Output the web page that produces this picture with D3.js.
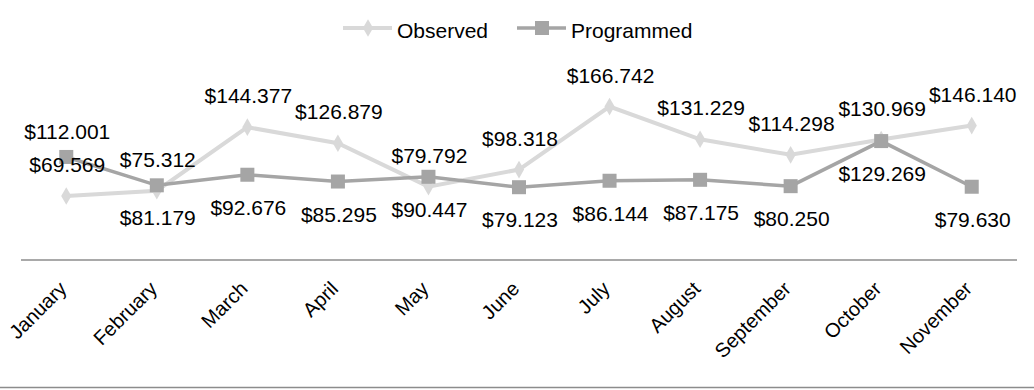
<!DOCTYPE html>
<html>
<head>
<meta charset="utf-8">
<script src="https://cdn.jsdelivr.net/npm/d3@7"></script>
<style>
  body { margin: 0; background: #fff; }
  text { font-family: "Liberation Sans", Arial, sans-serif; fill: #000; }
</style>
</head>
<body>
<svg id="chart"></svg>
<script>
let months = ['January', 'February', 'March', 'April', 'May', 'June', 'July', 'August', 'September', 'October', 'November']
let observed = [69.569, 75.312, 144.377, 126.879, 79.792, 98.318, 166.742, 131.229, 114.298, 130.969, 146.140]
let programmed = [112.001, 81.179, 92.676, 85.295, 90.447, 79.123, 86.144, 87.175, 80.250, 129.269, 79.630]
let seriesNames = ['Observed', 'Programmed']
// months whose Programmed label sits above the point instead of below
let programmedAbove = ['January']

function drawChart () {
  let svgWidth = 1034
  let svgHeight = 390
  let axisY = 260

  let svg = d3.select('#chart')
    .attr('width', svgWidth)
    .attr('height', svgHeight)

  let x = d3.scalePoint()
    .domain(months)
    .range([21, 1017])
    .padding(0.5)

  let y = d3.scaleLinear()
    .domain([0, 200])
    .range([axisY, 76])

  let fmt = (v) => '$' + v.toFixed(3)

  // category axis
  let xAxis = svg.append('g')
    .attr('transform', `translate(0, ${axisY})`)
    .call(d3.axisBottom(x).tickSize(0).tickPadding(0))
  xAxis.select('.domain')
    .attr('d', `M21,0H1017`)
    .attr('stroke', '#8c8c8c')
    .attr('stroke-width', 1.5)
  xAxis.selectAll('text')
    .attr('font-size', 20)
    .attr('font-family', '"Liberation Sans", Arial, sans-serif')
    .attr('fill', '#000')
    .attr('text-anchor', 'end')
    .attr('dy', 0)
    .attr('transform', 'translate(1, 30) rotate(-45)')

  // bottom border
  svg.append('line')
    .attr('x1', 0).attr('x2', svgWidth)
    .attr('y1', 387.5).attr('y2', 387.5)
    .attr('stroke', '#8c8c8c')
    .attr('stroke-width', 1.5)

  let line = d3.line()
    .x((d, i) => x(months[i]))
    .y((d) => y(d))

  let diamond = d3.symbol().type(d3.symbolDiamond).size(90)

  // Observed
  svg.append('path')
    .datum(observed)
    .attr('d', line)
    .attr('fill', 'none')
    .attr('stroke', '#d9d9d9')
    .attr('stroke-width', 4)
  svg.selectAll('.obs')
    .data(observed)
    .enter().append('path')
    .attr('class', 'obs')
    .attr('d', diamond)
    .attr('transform', (d, i) => `translate(${x(months[i])}, ${y(d)})`)
    .attr('fill', '#d9d9d9')

  // Programmed
  svg.append('path')
    .datum(programmed)
    .attr('d', line)
    .attr('fill', 'none')
    .attr('stroke', '#a5a5a5')
    .attr('stroke-width', 3.5)
  svg.selectAll('.prog')
    .data(programmed)
    .enter().append('rect')
    .attr('class', 'prog')
    .attr('x', (d, i) => x(months[i]) - 7)
    .attr('y', (d) => y(d) - 7)
    .attr('width', 14)
    .attr('height', 14)
    .attr('fill', '#a5a5a5')

  // data labels
  svg.selectAll('.obsLabel')
    .data(observed)
    .enter().append('text')
    .attr('class', 'obsLabel')
    .attr('x', (d, i) => x(months[i]) + 1)
    .attr('y', (d) => y(d) - 24)
    .attr('text-anchor', 'middle')
    .attr('font-size', 21)
    .text(fmt)

  svg.selectAll('.progLabel')
    .data(programmed)
    .enter().append('text')
    .attr('class', 'progLabel')
    .attr('x', (d, i) => x(months[i]) + 1)
    .attr('y', (d, i) => programmedAbove.includes(months[i]) ? y(d) - 18 : y(d) + 40)
    .attr('text-anchor', 'middle')
    .attr('font-size', 21)
    .text(fmt)

  // legend
  let legend = svg.append('g')
  let legendX = [343, 517]
  seriesNames.forEach((name, i) => {
    let g = legend.append('g').attr('transform', `translate(${legendX[i]}, 28)`)
    g.append('line')
      .attr('x1', 0).attr('x2', 49)
      .attr('stroke', i === 0 ? '#d9d9d9' : '#a5a5a5')
      .attr('stroke-width', i === 0 ? 4 : 3.5)
    if (i === 0) {
      g.append('path').attr('d', diamond).attr('transform', 'translate(25, 0)').attr('fill', '#d9d9d9')
    } else {
      g.append('rect').attr('x', 18).attr('y', -7).attr('width', 14).attr('height', 14).attr('fill', '#a5a5a5')
    }
    g.append('text')
      .attr('x', 54)
      .attr('y', 4)
      .attr('font-size', 21)
      .attr('dominant-baseline', 'middle')
      .text(name)
  })
}

drawChart()
</script>
</body>
</html>
